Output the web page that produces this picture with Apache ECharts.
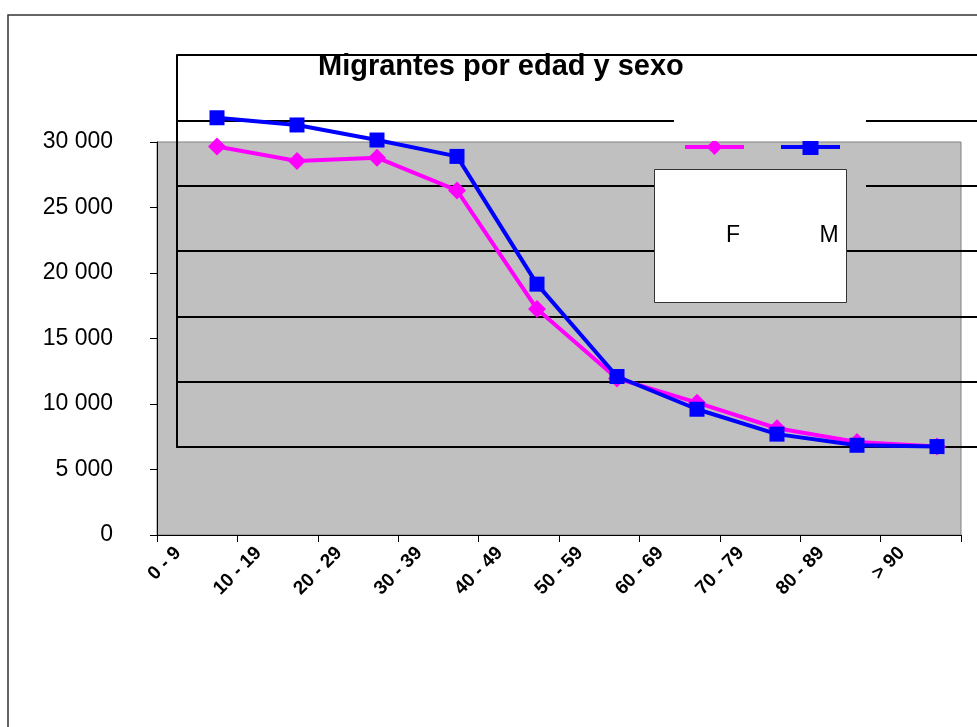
<!DOCTYPE html>
<html>
<head>
<meta charset="utf-8">
<script src="https://cdn.jsdelivr.net/npm/echarts@6/dist/echarts.min.js"></script>
<style>
  html, body { margin: 0; padding: 0; background: #ffffff; }
  #chart { width: 977px; height: 727px; }
</style>
</head>
<body>
<div id="chart"></div>
<script>
// Age groups and migrant counts by sex
const categories = ['0 - 9', '10 - 19', '20 - 29', '30 - 39', '40 - 49', '50 - 59', '60 - 69', '70 - 79', '80 - 89', '> 90'];
const femaleValues = [29650, 28550, 28800, 26300, 17250, 11950, 10100, 8150, 7100, 6750];
const maleValues = [31850, 31300, 30150, 28900, 19150, 12100, 9600, 7700, 6850, 6750];
const seriesNames = ['F', 'M'];
const yMin = 0;
const yMax = 30000;
const yStep = 5000;

const FONT = '"Liberation Sans", Arial, sans-serif';
const PINK = '#FF00FF';
const BLUE = '#0000FF';

function fmtThousands(v) {
  return String(v).replace(/\B(?=(\d{3})+(?!\d))/g, ' ');
}

const chart = echarts.init(document.getElementById('chart'), null, { renderer: 'canvas' });

chart.setOption({
  animation: false,
  backgroundColor: '#ffffff',
  title: {
    text: 'Migrantes por edad y sexo',
    left: 313,
    top: 47,
    textStyle: { fontFamily: FONT, fontWeight: 'bold', fontSize: 29, color: '#000' }
  },
  legend: {
    data: seriesNames,
    left: 678,
    top: 132,
    itemWidth: 59,
    itemHeight: 20,
    itemGap: 33,
    selectedMode: false,
    formatter: function () { return ''; },
    textStyle: { fontSize: 1 },
    lineStyle: { width: 4 }
  },
  grid: [
    // main plot area with the visible axes
    { left: 157, right: 16, top: 142, bottom: 192, show: true, backgroundColor: '#C0C0C0', borderColor: '#808080', borderWidth: 1, z: 0 },
    // offset frame of black gridlines
    { left: 177, width: 803, top: 55, height: 392, show: false, z: 1 },
    // plotting layer for the two lines
    { left: 177, width: 803, top: 142, height: 393, show: false, z: 3 }
  ],
  xAxis: [
    {
      gridIndex: 0, type: 'category', data: categories, boundaryGap: true,
      axisLine: { lineStyle: { color: '#000', width: 1 } },
      axisTick: { show: true, length: 7, inside: false, alignWithLabel: false, lineStyle: { color: '#000' } },
      axisLabel: { rotate: 45, margin: -4, padding: [0, 27, 0, 0], interval: 0, color: '#000', fontFamily: FONT, fontWeight: 'bold', fontSize: 19 }
    },
    {
      gridIndex: 1, type: 'category', data: categories, boundaryGap: true,
      axisLine: { show: true, lineStyle: { color: '#000', width: 2 } },
      axisTick: { show: false }, axisLabel: { show: false }
    },
    {
      gridIndex: 2, type: 'category', data: categories, boundaryGap: true,
      axisLine: { show: false }, axisTick: { show: false }, axisLabel: { show: false }
    }
  ],
  yAxis: [
    {
      gridIndex: 0, type: 'value', min: yMin, max: yMax, interval: yStep,
      axisLine: { show: true, lineStyle: { color: '#000', width: 1 } },
      axisTick: { show: true, length: 7, lineStyle: { color: '#000' } },
      splitLine: { show: false },
      axisLabel: { margin: 44, color: '#000', fontFamily: FONT, fontSize: 23, formatter: fmtThousands }
    },
    {
      gridIndex: 1, type: 'value', min: yMin, max: yMax, interval: yStep,
      axisLine: { show: true, lineStyle: { color: '#000', width: 2 } },
      axisTick: { show: false }, axisLabel: { show: false },
      splitLine: { show: true, lineStyle: { color: '#000', width: 2 } }
    },
    {
      gridIndex: 2, type: 'value', min: yMin, max: yMax, interval: yStep,
      axisLine: { show: false }, axisTick: { show: false }, axisLabel: { show: false }, splitLine: { show: false }
    }
  ],
  series: [
    {
      name: seriesNames[0], type: 'line', xAxisIndex: 2, yAxisIndex: 2, data: femaleValues,
      symbol: 'diamond', symbolSize: 18, z: 3, clip: false,
      lineStyle: { color: PINK, width: 4 }, itemStyle: { color: PINK }
    },
    {
      name: seriesNames[1], type: 'line', xAxisIndex: 2, yAxisIndex: 2, data: maleValues,
      symbol: 'rect', symbolSize: 15, z: 4, clip: false,
      lineStyle: { color: BLUE, width: 4 }, itemStyle: { color: BLUE }
    }
  ],
  graphic: [
    // outer chart border
    { type: 'rect', shape: { x: 8, y: 15, width: 2000, height: 2000 }, style: { fill: null, stroke: '#333', lineWidth: 1.5 }, z: 0, silent: true },
    // blank strips where the frame lines break
    { type: 'rect', shape: { x: 674, y: 100, width: 192, height: 41 }, style: { fill: '#ffffff' }, z: 50, silent: true },
    { type: 'rect', shape: { x: 846, y: 178, width: 20, height: 16 }, style: { fill: '#C0C0C0' }, z: 50, silent: true },
    // legend box
    { type: 'rect', shape: { x: 654.5, y: 169.5, width: 192, height: 133 }, style: { fill: '#ffffff', stroke: '#333', lineWidth: 1 }, z: 50, silent: true },
    { type: 'text', x: 733, y: 236, style: { text: 'F', fill: '#000', font: '23px ' + FONT, textAlign: 'center', textVerticalAlign: 'middle' }, z: 51, silent: true },
    { type: 'text', x: 829, y: 236, style: { text: 'M', fill: '#000', font: '23px ' + FONT, textAlign: 'center', textVerticalAlign: 'middle' }, z: 51, silent: true }
  ]
});
</script>
</body>
</html>
